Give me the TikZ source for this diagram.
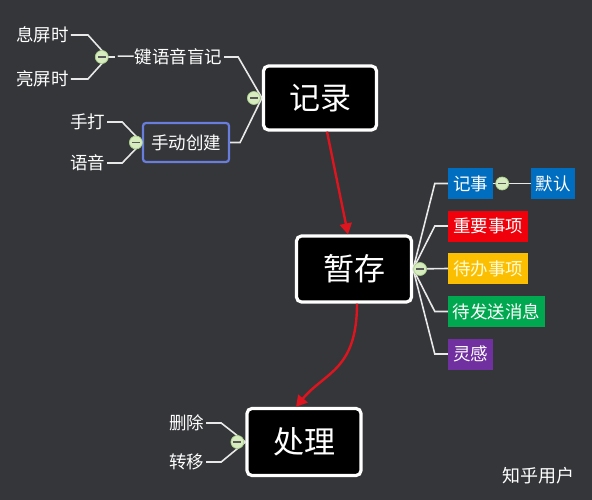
\documentclass[tikz,border=0pt]{standalone}
\usepackage{fontspec}
\setmainfont{Noto Sans CJK SC}
\usetikzlibrary{arrows.meta}

\definecolor{bgcol}{RGB}{52,54,57}
\definecolor{linecol}{RGB}{232,232,232}
\definecolor{flowred}{RGB}{222,20,30}
\definecolor{foldfill}{RGB}{214,236,190}
\definecolor{folddraw}{RGB}{170,205,140}
\definecolor{tagblue}{RGB}{0,110,192}
\definecolor{tagred}{RGB}{240,0,10}
\definecolor{tagyellow}{RGB}{252,190,0}
\definecolor{taggreen}{RGB}{0,168,80}
\definecolor{tagpurple}{RGB}{112,48,160}
\definecolor{framecol}{RGB}{105,125,220}

\begin{document}
\begin{tikzpicture}[x=1pt, y=-1pt,
	mainbox/.style={draw=white, line width=3.2pt, fill=black, rounded corners=5pt,
		minimum width=113pt, minimum height=64pt, text=white,
		font=\fontsize{31}{34}\selectfont},
	leaf/.style={text=white, inner sep=2pt, font=\fontsize{17.5}{20}\selectfont},
	tag/.style={text=white, inner sep=0pt, minimum height=31pt, minimum width=#1,
		font=\fontsize{17.5}{20}\selectfont},
	fold/.style={circle, fill=foldfill, draw=folddraw, line width=0.7pt,
		inner sep=0pt, minimum size=13pt,
		path picture={\draw[black!65, line width=1.1pt]
			([xshift=-4pt]path picture bounding box.center) --
			([xshift=4pt]path picture bounding box.center);}},
	branch/.style={draw=linecol, line width=1.6pt},
	flow/.style={draw=flowred, line width=2.4pt,
		-{Triangle[length=11pt, width=12pt]}}]

	\fill[bgcol] (0,0) rectangle (592,500);
	\useasboundingbox (0,0) rectangle (592,500);

	\node[mainbox] (jilu) at (320,98) {记录};
	\node[mainbox, minimum width=115pt, minimum height=66pt] (zancun) at (354,269) {暂存};
	\node[mainbox, minimum width=114pt, minimum height=67pt] (chuli) at (304,442) {处理};

	\node[leaf] (xiping) at (42.5,35) {息屏时};
	\node[leaf] (liangping) at (42.5,79) {亮屏时};
	\node[leaf] (yijian) at (169.5,57) {一键语音盲记};
	\node[leaf] (shouda) at (87.5,122) {手打};
	\node[leaf] (yuyin) at (87.5,163) {语音};
	\node[draw=framecol, line width=2.2pt, rounded corners=3pt, text=white,
		minimum width=86pt, minimum height=39pt,
		font=\fontsize{17.5}{20}\selectfont] (shoudong) at (186,142.5) {手动创建};
	\node[leaf] (shanchu) at (186.5,423) {删除};
	\node[leaf] (zhuanyi) at (186.5,462) {转移};

	\node[tag=45pt, fill=tagblue] (jishi) at (470.5,183.5) {记事};
	\node[tag=44pt, fill=tagblue] (moren) at (553,183.5) {默认};
	\node[tag=80pt, fill=tagred] (zhongyao) at (488,226) {重要事项};
	\node[tag=80pt, fill=tagyellow, text=white!85!yellow] (daiban) at (488,268.5) {待办事项};
	\node[tag=97pt, fill=taggreen] (daifa) at (496.5,311.5) {待发送消息};
	\node[tag=45pt, fill=tagpurple] (linggan) at (470.5,354) {灵感};

	\node[text=white, font=\fontsize{18}{20}\selectfont] (zhihu) at (538.5,476) {知乎用户};

	\coordinate (j1) at ([xshift=-7pt]yijian.west);

	\draw[branch] (xiping.east) -- ++(17,0) -- (j1);
	\draw[branch] (liangping.east) -- ++(17,0) -- (j1);
	\draw[branch] (j1) -- (yijian.west);
	\draw[branch] (yijian.east) -- ++(14,0) -- (jilu.west);
	\draw[branch] (shoudong.east) -- ++(10,0) -- (jilu.west);
	\draw[branch] (shouda.east) -- ++(15,0) -- (shoudong.west);
	\draw[branch] (yuyin.east) -- ++(15,0) -- (shoudong.west);
	\draw[branch] (shanchu.east) -- ++(15,0) -- (chuli.west);
	\draw[branch] (zhuanyi.east) -- ++(15,0) -- (chuli.west);

	\draw[branch] (zancun.east) -- ([xshift=-13pt]jishi.west) -- (jishi.west);
	\draw[branch] (zancun.east) -- ([xshift=-13pt]zhongyao.west) -- (zhongyao.west);
	\draw[branch] (zancun.east) -- (daiban.west);
	\draw[branch] (zancun.east) -- ([xshift=-13pt]daifa.west) -- (daifa.west);
	\draw[branch] (zancun.east) -- ([xshift=-13pt]linggan.west) -- (linggan.west);
	\draw[branch] (jishi.east) -- (moren.west);

	\node[fold] (f1) at ([xshift=-13pt]yijian.west) {};
	\node[fold] (f2) at ([xshift=-8pt]jilu.west) {};
	\node[fold] (f3) at ([xshift=-6pt]shoudong.west) {};
	\node[fold] (f4) at ([xshift=-8pt]chuli.west) {};
	\node[fold] (f5) at ([xshift=7pt]zancun.east) {};
	\node[fold] (f6) at ([xshift=9pt]jishi.east) {};

	\draw[flow] ([xshift=7pt]jilu.south) -- ([xshift=-6pt]zancun.north);
	\draw[flow] ([xshift=3pt]zancun.south) .. controls (357,370) and (325,372) .. ([xshift=-8pt]chuli.north);
\end{tikzpicture}
\end{document}
